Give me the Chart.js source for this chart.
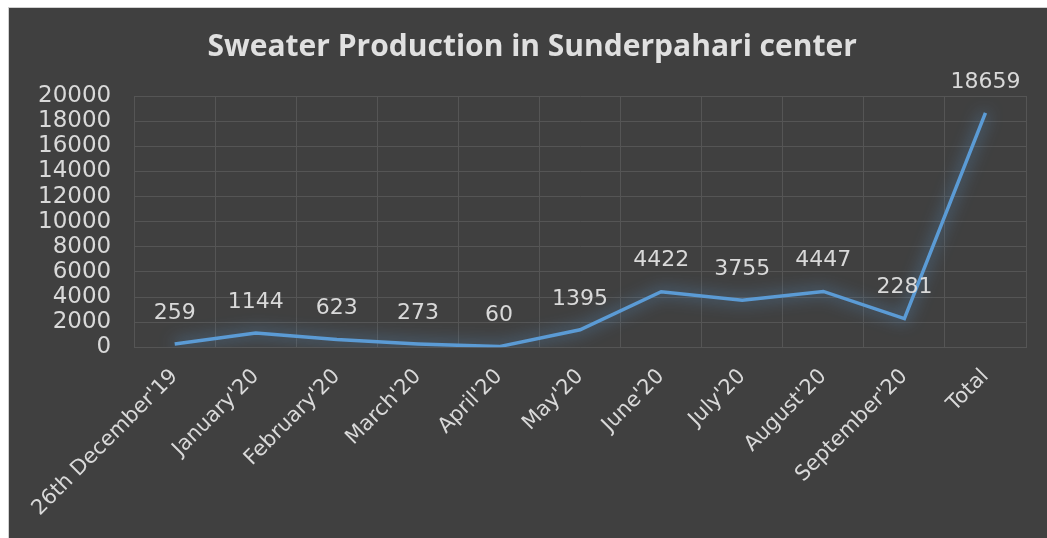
<!DOCTYPE html>
<html>
<head>
<meta charset="utf-8">
<script src="https://cdn.jsdelivr.net/npm/chart.js@4"></script>
<style>
  html, body { margin: 0; padding: 0; background: #ffffff; overflow: hidden; }
  #box {
    position: absolute; left: 8px; top: 7px; width: 1039px; height: 531px;
    background: #404040; border-left: 1px solid #d0d0d0; border-top: 1px solid #d0d0d0;
  }
</style>
</head>
<body>
<div id="box"><canvas id="myChart" width="1038" height="530"></canvas></div>
<script>
const categories = ["26th December'19", "January'20", "February'20", "March'20", "April'20",
  "May'20", "June'20", "July'20", "August'20", "September'20", "Total"];
const production = [259, 1144, 623, 273, 60, 1395, 4422, 3755, 4447, 2281, 18659];
const yTicks = [0, 2000, 4000, 6000, 8000, 10000, 12000, 14000, 16000, 18000, 20000];

const FONT = "'Open Sans', 'DejaVu Sans', sans-serif";
const NUMFONT = "'DejaVu Sans', sans-serif";

// soft blue glow under the line
const glowPlugin = {
  id: 'glow',
  beforeDatasetDraw(chart) {
    const ctx = chart.ctx;
    ctx.save();
    ctx.shadowColor = 'rgba(91,155,213,0.9)';
    ctx.shadowBlur = 16;
  },
  afterDatasetDraw(chart) {
    chart.ctx.restore();
  }
};

// value labels above each point
const valueLabels = {
  id: 'valueLabels',
  afterDatasetsDraw(chart) {
    const ctx = chart.ctx;
    const meta = chart.getDatasetMeta(0);
    ctx.save();
    ctx.font = '22px ' + NUMFONT;
    ctx.fillStyle = '#d9d9d9';
    ctx.textAlign = 'center';
    ctx.textBaseline = 'middle';
    meta.data.forEach((pt, i) => {
      ctx.fillText(String(production[i]), pt.x, pt.y - 31);
    });
    ctx.restore();
  }
};

const ctx = document.getElementById('myChart').getContext('2d');
new Chart(ctx, {
  type: 'line',
  data: {
    labels: categories,
    datasets: [{
      label: 'Production',
      data: production,
      borderColor: '#5b9bd5',
      borderWidth: 3.5,
      pointRadius: 0,
      tension: 0,
      fill: false
    }]
  },
  options: {
    responsive: false,
    animation: false,
    layout: { padding: { left: 6, right: 21, top: 0, bottom: 0 } },
    scales: {
      x: {
        offset: true,
        grid: { color: '#555555', offset: true, drawTicks: false },
        border: { color: '#555555' },
        ticks: {
          color: '#d9d9d9',
          font: { family: NUMFONT, size: 21 },
          minRotation: 45,
          maxRotation: 45,
          autoSkip: false,
          padding: 17
        }
      },
      y: {
        min: 0,
        max: 20000,
        afterBuildTicks(axis) { axis.ticks = yTicks.map(v => ({ value: v })); },
        grid: { color: '#555555', drawTicks: false },
        border: { color: '#555555' },
        ticks: {
          color: '#d9d9d9',
          font: { family: NUMFONT, size: 23 },
          autoSkip: false,
          padding: 23,
          callback: v => String(v)
        }
      }
    },
    plugins: {
      legend: { display: false },
      tooltip: { enabled: false },
      title: {
        display: true,
        // leading no-break spaces nudge the centred title right, like the original
        text: '\u00a0\u00a0\u00a0Sweater Production in Sunderpahari center',
        color: '#e0e0e0',
        font: { family: FONT, size: 30, weight: 'bold' },
        padding: { top: 21, bottom: 31 }
      }
    }
  },
  plugins: [glowPlugin, valueLabels]
});
</script>
</body>
</html>
